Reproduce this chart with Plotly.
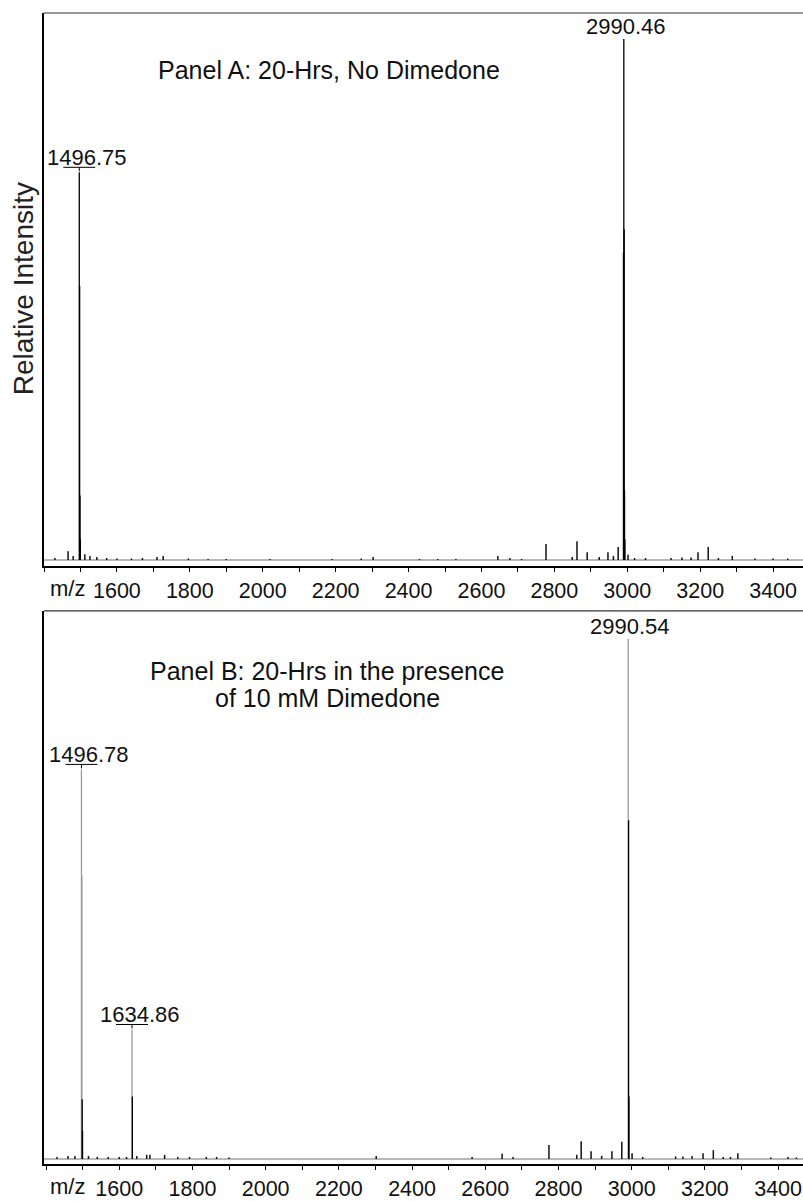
import plotly.graph_objects as go
from plotly.subplots import make_subplots

# ---------------- data ----------------
# Panel A: main isotope-cluster sticks (m/z, relative intensity, colour group)
a_main_mz = [1496.75, 1497.75, 1498.75, 1499.75, 2990.46, 2989.46, 2991.46, 2992.46, 2993.46]
a_main_int = [0.744, 0.526, 0.124, 0.04, 1.0, 0.59, 0.635, 0.134, 0.04]
a_main_grey = [False, False, False, False, False, False, False, False, False]

# Panel A: minor peaks
a_minor_mz = [1430, 1466, 1480, 1512, 1526, 1545, 1572, 1600, 1640, 1670, 1710, 1727, 1796, 1850,
              1900, 2020, 2190, 2270, 2303, 2430, 2480, 2530, 2645, 2678, 2710, 2777, 2849, 2862,
              2890, 2923, 2947, 2962, 2975, 3002, 3020, 3050, 3120, 3150, 3175, 3194, 3222, 3250,
              3288, 3350, 3400, 3440]
a_minor_int = [0.004, 0.017, 0.008, 0.011, 0.008, 0.006, 0.004, 0.003, 0.003, 0.004, 0.006, 0.008,
               0.003, 0.002, 0.002, 0.002, 0.002, 0.003, 0.006, 0.002, 0.002, 0.002, 0.008, 0.004,
               0.002, 0.031, 0.006, 0.036, 0.015, 0.006, 0.015, 0.008, 0.025, 0.010, 0.004, 0.004,
               0.004, 0.005, 0.005, 0.015, 0.025, 0.004, 0.008, 0.003, 0.003, 0.003]

# Panel B: main isotope-cluster sticks
b_main_mz = [1496.78, 1497.78, 1498.78, 1499.78, 1634.86, 1635.86, 2990.54, 2991.54, 2992.54]
b_main_int = [0.749, 0.546, 0.115, 0.054, 0.249, 0.12, 1.0, 0.651, 0.12]
b_main_grey = [True, True, False, False, True, False, True, False, False]

# Panel B: minor peaks
b_minor_mz = [1430, 1460, 1479, 1516, 1540, 1570, 1600, 1620, 1648, 1675, 1684, 1724, 1760, 1792,
              1838, 1866, 1900, 2302, 2564, 2646, 2676, 2774, 2850, 2862, 2889, 2918, 2946, 2973,
              3001, 3030, 3120, 3140, 3165, 3195, 3223, 3250, 3270, 3290, 3380, 3427, 3450]
b_minor_int = [0.004, 0.006, 0.006, 0.006, 0.004, 0.004, 0.004, 0.004, 0.006, 0.008, 0.008, 0.008,
               0.004, 0.004, 0.004, 0.004, 0.003, 0.006, 0.004, 0.010, 0.004, 0.027, 0.008, 0.034,
               0.015, 0.006, 0.015, 0.033, 0.011, 0.004, 0.005, 0.005, 0.006, 0.011, 0.017, 0.004,
               0.004, 0.011, 0.003, 0.004, 0.003]

# Peak labels: (m/z, intensity, text, bracketed)
a_label_mz = [1496.75, 2990.46]
a_label_int = [0.744, 1.0]
a_label_text = ["1496.75", "2990.46"]
a_label_bracket = [True, False]

b_label_mz = [1496.78, 1634.86, 2990.54]
b_label_int = [0.749, 0.249, 1.0]
b_label_text = ["1496.78", "1634.86", "2990.54"]
b_label_bracket = [True, True, False]

tick_vals = list(range(1400, 3500, 100))
tick_text = ["" if (v % 200 != 0 or v == 1400) else str(v) for v in tick_vals]

x_range_a = [1400, 3482]
x_range_b = [1394.5, 3468]
y_range_a = [-0.0115, 1.0497]
y_range_b = [-0.0096, 1.0536]

FONT = "Liberation Sans, Arial, sans-serif"
TXT = "#111111"
FS_TICK = 21.5
FS_PEAK = 22
FS_TITLE = 25
FS_YT = 28


def sticks(mz, inten):
    xs, ys = [], []
    for m, h in zip(mz, inten):
        xs += [m, m, None]
        ys += [0, h, None]
    return xs, ys


fig = make_subplots(rows=2, cols=1, vertical_spacing=0.039)

panels = [
    (1, a_main_mz, a_main_int, a_main_grey, a_minor_mz, a_minor_int, x_range_a),
    (2, b_main_mz, b_main_int, b_main_grey, b_minor_mz, b_minor_int, x_range_b),
]
for row, mmz, mint, mgrey, nmz, nint, xr in panels:
    fig.add_trace(go.Scatter(x=xr, y=[0, 0], mode="lines",
                             line=dict(color="#a0a0a0", width=1.5), hoverinfo="skip",
                             showlegend=False), row=row, col=1)
    xs, ys = sticks(nmz, nint)
    fig.add_trace(go.Scatter(x=xs, y=ys, mode="lines", line=dict(color="#111111", width=1.5),
                             showlegend=False, hoverinfo="skip"), row=row, col=1)
    gx = [m for m, g in zip(mmz, mgrey) if g]
    gy = [h for h, g in zip(mint, mgrey) if g]
    if gx:
        xs, ys = sticks(gx, gy)
        fig.add_trace(go.Scatter(x=xs, y=ys, mode="lines", line=dict(color="#9a9a9a", width=1.3),
                                 showlegend=False, hoverinfo="skip"), row=row, col=1)
    bx = [m for m, g in zip(mmz, mgrey) if not g]
    by = [h for h, g in zip(mint, mgrey) if not g]
    xs, ys = sticks(bx, by)
    fig.add_trace(go.Scatter(x=xs, y=ys, mode="lines", line=dict(color="#000000", width=1.3),
                             showlegend=False, hoverinfo="skip"), row=row, col=1)

for row, yr, xr in [(1, y_range_a, x_range_a), (2, y_range_b, x_range_b)]:
    fig.update_xaxes(row=row, col=1, range=xr, tickmode="array", tickvals=tick_vals,
                     ticktext=tick_text, ticks="outside", ticklen=4, tickwidth=1,
                     tickcolor="#000", showline=True, linecolor="#000", linewidth=2,
                     showgrid=False, zeroline=False,
                     tickfont=dict(family=FONT, size=FS_TICK, color=TXT))
    fig.update_yaxes(row=row, col=1, range=yr, showticklabels=False, ticks="",
                     showline=True, linecolor="#000", linewidth=1.5, showgrid=False,
                     zeroline=False)

for xd, yd in [("x domain", "y domain"), ("x2 domain", "y2 domain")]:
    fig.add_shape(type="line", xref=xd, yref=yd, x0=0, x1=1, y0=1, y1=1,
                  line=dict(color="#333", width=1.2))

annotations = []
for xref, yref, mzs, ints, texts, brs in [
    ("x", "y", a_label_mz, a_label_int, a_label_text, a_label_bracket),
    ("x2", "y2", b_label_mz, b_label_int, b_label_text, b_label_bracket),
]:
    for m, h, t, b in zip(mzs, ints, texts, brs):
        annotations.append(dict(x=m, y=h, xref=xref, yref=yref, text=t, showarrow=False,
                                xanchor="center", yanchor="bottom",
                                xshift=(8 if b else 2), yshift=(0 if b else -2),
                                font=dict(family=FONT, size=FS_PEAK, color=TXT)))
        if b:
            fig.add_shape(type="line", xref=xref, yref=yref, xsizemode="pixel",
                          ysizemode="pixel", xanchor=m, yanchor=h, x0=-16, x1=16,
                          y0=5, y1=5, line=dict(color="#000", width=1))
            fig.add_shape(type="line", xref=xref, yref=yref, xsizemode="pixel",
                          ysizemode="pixel", xanchor=m, yanchor=h, x0=0, x1=0,
                          y0=5, y1=1, line=dict(color="#000", width=1))

# panel titles
annotations.append(dict(x=(329 - 44) / 759, y=0.9506, xref="paper", yref="paper",
                        text="Panel A: 20-Hrs, No Dimedone", showarrow=False,
                        xanchor="center", yanchor="middle",
                        font=dict(family=FONT, size=FS_TITLE, color=TXT)))
annotations.append(dict(x=(327 - 44) / 759, y=0.4286, xref="paper", yref="paper",
                        text="Panel B: 20-Hrs in the presence", showarrow=False,
                        xanchor="center", yanchor="middle",
                        font=dict(family=FONT, size=FS_TITLE, color=TXT)))
annotations.append(dict(x=(327 - 44) / 759, y=0.4052, xref="paper", yref="paper",
                        text="of 10 mM Dimedone", showarrow=False,
                        xanchor="center", yanchor="middle",
                        font=dict(family=FONT, size=FS_TITLE, color=TXT)))
# m/z labels
for yp in [0.5195, 0.0]:
    annotations.append(dict(x=(48 - 44) / 759, y=yp, xref="paper", yref="paper", text="m/z",
                            showarrow=False, xanchor="left", yanchor="top", yshift=-8,
                            font=dict(family=FONT, size=22, color=TXT)))
# y title
annotations.append(dict(x=(23 - 44) / 759, y=0.76, xref="paper", yref="paper",
                        text="Relative Intensity", textangle=-90, showarrow=False,
                        xanchor="center", yanchor="middle",
                        font=dict(family=FONT, size=FS_YT, color="#222222")))

fig.update_layout(width=803, height=1201, margin=dict(l=44, r=0, t=13, b=33),
                  plot_bgcolor="white", paper_bgcolor="white",
                  annotations=annotations, showlegend=False)
fig.update_layout(yaxis=dict(domain=[0.5195, 1.0]), yaxis2=dict(domain=[0.0, 0.4805]))

fig.write_html("out.html")
